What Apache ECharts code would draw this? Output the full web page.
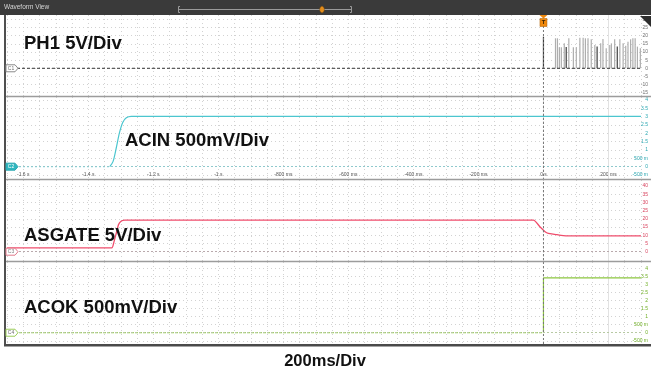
<!DOCTYPE html>
<html>
<head>
<meta charset="utf-8">
<script src="https://cdn.jsdelivr.net/npm/echarts@6/dist/echarts.min.js"></script>
<style>
  html, body { margin: 0; padding: 0; background: #ffffff; }
  #c { width: 651px; height: 376px; }
</style>
</head>
<body>
<div id="c"></div>
<script>
// ---- time base (seconds) ----
const timeMin = -1.65;
const timeMax = 0.3;
const timeLabels = [-1.6, -1.4, -1.2, -1, -0.8, -0.6, -0.4, -0.2, 0, 0.2];
const cursorTime = 0.2;

// ---- vertical scale labels per channel ----
const ph1Ticks = [-15, -10, -5, 0, 5, 10, 15, 20, 25, 30];
const acinTicks = [-0.5, 0, 0.5, 1, 1.5, 2, 2.5, 3, 3.5, 4];
const asgateTicks = [0, 5, 10, 15, 20, 25, 30, 35, 40];
const acokTicks = [-0.5, 0, 0.5, 1, 1.5, 2, 2.5, 3, 3.5, 4];

// ---- CH1: PH1 switching node (V) ----
const ph1Time = [-1.65, 0.3];
const ph1Volts = [0, 0];
const ph1PulseTimes = [0.037, 0.043, 0.049, 0.055, 0.064, 0.078, 0.092, 0.101, 0.112, 0.122,
  0.129, 0.137, 0.147, 0.158, 0.176, 0.183, 0.193, 0.204, 0.209, 0.219, 0.235, 0.245,
  0.253, 0.260, 0.268, 0.275, 0.282, 0.289, 0.298];
const ph1PulseVolts = [18.4, 18.4, 12.9, 12.9, 15.3, 18.4, 12.9, 12.9, 18.8, 18.8,
  18.4, 18.4, 17.8, 14.3, 15.3, 18.0, 12.3, 14.3, 15.3, 17.8, 17.8, 15.3,
  13.8, 16.3, 17.8, 18.4, 18.4, 13.3, 12.3];
const ph1DarkPulseTimes = [0.0, 0.070, 0.165, 0.227];
const ph1DarkPulseVolts = [19.4, 13.0, 13.3, 13.3];

// ---- CH2: ACIN (V) ----
const acinTime = [-1.65, -1.334, -1.324, -1.314, -1.304, -1.294, -1.283, -1.268, -1.243, 0.3];
const acinVolts = [0, 0, 0.3, 1.12, 2.04, 2.65, 2.93, 3.02, 3.02, 3.02];

// ---- CH3: ASGATE (V) ----
const asgateTime = [-1.65, -1.328, -1.321, -1.313, -1.307, -1.299, -1.288, -1.257,
  -0.031, -0.011, 0.005, 0.015, 0.035, 0.061, 0.107, 0.3];
const asgateVolts = [2.3, 2.3, 6, 12, 16.5, 18.6, 19.2, 19.3,
  19.3, 15.2, 12.2, 11.2, 10.6, 9.8, 9.6, 9.6];

// ---- CH4: ACOK (V) ----
const acokTime = [-1.65, 0, 0, 0.3];
const acokVolts = [0, 0, 3.4, 3.4];

const FONT = '"Liberation Sans", Arial, Helvetica, sans-serif';
const TEAL = '#4cc6cf';
const RED = '#ef4d6c';
const GREEN = '#8cc63f';

const pts = (ts, vs) => ts.map((t, i) => [t, vs[i]]);

function voltFmt(v) {
  if (v === 0.5) return '500 m';
  if (v === -0.5) return '-500 m';
  return String(v);
}
function timeFmt(t) {
  if (Math.abs(t) < 1e-9) return '0 s';
  if (Math.abs(t) >= 1) return t + ' s';
  return Math.round(t * 1000) + ' ms';
}

const panels = [
  { top: 15, height: 81, min: -17.0, max: 32.7, ticks: ph1Ticks, color: '#707070', fmt: String },
  { top: 97, height: 82, min: -0.74, max: 4.18, ticks: acinTicks, color: '#2aa7b1', fmt: voltFmt },
  { top: 180, height: 81, min: -5.67, max: 43.7, ticks: asgateTicks, color: '#d8445f', fmt: String },
  { top: 262, height: 82, min: -0.70, max: 4.39, ticks: acokTicks, color: '#6fae25', fmt: voltFmt }
];

const gridLine = { show: true, lineStyle: { color: '#d2d2d2', width: 1, type: [1, 3] } };

const grids = panels.map(p => ({ left: 7, right: 8, top: p.top, height: p.height }));

const xAxes = panels.map((p, i) => ({
  type: 'value', gridIndex: i, min: timeMin, max: timeMax, interval: 0.05,
  axisLine: { show: false }, axisTick: { show: false },
  splitLine: gridLine,
  axisLabel: i === 1 ? {
    show: true, inside: true, margin: 2, customValues: timeLabels,
    formatter: timeFmt, fontSize: 5, color: '#555', fontFamily: FONT
  } : { show: false }
}));

const yAxes = panels.map((p, i) => ({
  type: 'value', gridIndex: i, position: 'right', min: p.min, max: p.max,
  axisLine: { show: false },
  axisTick: { show: false, customValues: p.ticks },
  splitLine: gridLine,
  axisLabel: {
    show: true, customValues: p.ticks, formatter: p.fmt, align: 'right', margin: 7,
    fontSize: 5, color: p.color, fontFamily: FONT
  }
}));

const zeroRef = (color, type) => ({
  silent: true, symbol: 'none', animation: false,
  lineStyle: { color: color, width: 1, type: type },
  label: { show: false },
  data: [{ yAxis: 0 }]
});

const acinPts = pts(acinTime, acinVolts);
const acokPts = pts(acokTime, acokVolts);

const series = [
  // CH1 baseline and pulses
  {
    type: 'line', xAxisIndex: 0, yAxisIndex: 0, data: pts(ph1Time, ph1Volts),
    showSymbol: false, lineStyle: { color: '#333', width: 1, type: [3, 2] }, z: 4
  },
  {
    type: 'bar', xAxisIndex: 0, yAxisIndex: 0, data: pts(ph1PulseTimes, ph1PulseVolts),
    barWidth: 1.2, itemStyle: { color: '#aeaeae' }, z: 3
  },
  {
    type: 'bar', xAxisIndex: 0, yAxisIndex: 0, data: pts(ph1DarkPulseTimes, ph1DarkPulseVolts),
    barWidth: 1.2, barGap: '-100%', itemStyle: { color: '#3e3e3e' }, z: 3
  },
  // CH2 ACIN: idle part dashed, then edge and plateau
  {
    type: 'line', xAxisIndex: 1, yAxisIndex: 1, data: acinPts.slice(0, 2),
    showSymbol: false, lineStyle: { color: TEAL, width: 1, type: [2, 2] },
    markLine: zeroRef('#8fc9cd', [2, 2])
  },
  {
    type: 'line', xAxisIndex: 1, yAxisIndex: 1, data: acinPts.slice(1), smooth: 0.3,
    showSymbol: false, lineStyle: { color: TEAL, width: 1.2 }
  },
  // CH3 ASGATE
  {
    type: 'line', xAxisIndex: 2, yAxisIndex: 2, data: pts(asgateTime, asgateVolts), smooth: 0.2,
    showSymbol: false, lineStyle: { color: RED, width: 1.3 },
    markLine: zeroRef('#b9a9ac', [2, 2])
  },
  // CH4 ACOK: low part dashed, step at trigger
  {
    type: 'line', xAxisIndex: 3, yAxisIndex: 3, data: acokPts.slice(0, 2),
    showSymbol: false, lineStyle: { color: GREEN, width: 1, type: [3, 1] },
    markLine: zeroRef('#b7c9a3', [2, 2])
  },
  {
    type: 'line', xAxisIndex: 3, yAxisIndex: 3, data: acokPts.slice(1),
    showSymbol: false, lineStyle: { color: GREEN, width: 1.2 }
  }
];

const chart = echarts.init(document.getElementById('c'), null, { renderer: 'canvas' });
chart.setOption({
  animation: false,
  backgroundColor: '#ffffff',
  grid: grids,
  xAxis: xAxes,
  yAxis: yAxes,
  series: series
});

// ---- frame, channel tags, trigger and captions ----
const g = [];
const px = (i, t, v) => chart.convertToPixel({ xAxisIndex: i, yAxisIndex: i }, [t, v]);

// title bar
g.push({ type: 'rect', shape: { x: 0, y: 0, width: 651, height: 15 }, style: { fill: '#3a3a3a' }, z: 50 });
g.push({ type: 'text', x: 4, y: 7.5, style: { text: 'Waveform View', fill: '#d6d6d6', fontSize: 6.5, fontFamily: FONT, verticalAlign: 'middle' }, z: 51 });
g.push({ type: 'line', shape: { x1: 178, y1: 9.5, x2: 352, y2: 9.5 }, style: { stroke: '#9a9a9a', lineWidth: 1 }, z: 51 });
g.push({ type: 'polyline', shape: { points: [[180, 6.5], [178.5, 6.5], [178.5, 12.5], [180, 12.5]] }, style: { stroke: '#9a9a9a', lineWidth: 1, fill: null }, z: 51 });
g.push({ type: 'polyline', shape: { points: [[350, 6.5], [351.5, 6.5], [351.5, 12.5], [350, 12.5]] }, style: { stroke: '#9a9a9a', lineWidth: 1, fill: null }, z: 51 });
g.push({ type: 'ellipse', shape: { cx: 322, cy: 9.5, rx: 2.3, ry: 3.3 }, style: { fill: '#e38d1c', stroke: '#7a4a0a', lineWidth: 0.5 }, z: 52 });

// panel separators and outer frame
[96.5, 179.5, 261.5].forEach(y => {
  g.push({ type: 'line', shape: { x1: 5, y1: y, x2: 651, y2: y }, style: { stroke: '#9c9c9c', lineWidth: 1.5 }, z: 40 });
});
g.push({ type: 'rect', shape: { x: 4, y: 15, width: 2, height: 331 }, style: { fill: '#505050' }, z: 41 });
g.push({ type: 'rect', shape: { x: 4, y: 344, width: 647, height: 2.5 }, style: { fill: '#4a4a4a' }, z: 41 });

// cursor and trigger lines
const xCur = px(0, cursorTime, 0)[0];
g.push({ type: 'line', shape: { x1: xCur, y1: 15, x2: xCur, y2: 344 }, style: { stroke: '#e2e2e2', lineWidth: 1 }, z: 1 });
const xTrig = px(0, 0, 0)[0];
g.push({ type: 'line', shape: { x1: xTrig, y1: 26, x2: xTrig, y2: 344 }, style: { stroke: '#777', lineWidth: 1, lineDash: [2, 2] }, z: 5 });
g.push({ type: 'polygon', shape: { points: [[xTrig - 4, 15], [xTrig + 4, 15], [xTrig, 18.5]] }, style: { fill: '#f0890c' }, z: 53 });
g.push({ type: 'rect', shape: { x: xTrig - 3.5, y: 18.5, width: 7, height: 8 }, style: { fill: '#f0890c', stroke: '#a85a00', lineWidth: 0.5 }, z: 53 });
g.push({ type: 'text', x: xTrig, y: 22.7, style: { text: 'T', fill: '#3a2000', fontSize: 6, fontWeight: 'bold', fontFamily: FONT, align: 'center', verticalAlign: 'middle' }, z: 54 });

// top-right corner marker
g.push({ type: 'polygon', shape: { points: [[640, 16], [651, 16], [651, 27]] }, style: { fill: '#2e2e2e' }, z: 53 });

// channel ground tags
const tags = [
  { label: 'C1', stroke: '#8a8a8a', fill: '#ffffff', text: '#707070' },
  { label: 'C2', stroke: '#2aa7b1', fill: '#2fb6bf', text: '#ffffff' },
  { label: 'C3', stroke: '#e07a8c', fill: '#ffffff', text: '#808080' },
  { label: 'C4', stroke: '#9ccc5a', fill: '#ffffff', text: '#707070' }
];
tags.forEach((tg, i) => {
  const y = px(i, timeMin, 0)[1];
  g.push({
    type: 'polygon',
    shape: { points: [[6, y - 3.5], [15, y - 3.5], [18, y], [15, y + 3.5], [6, y + 3.5]] },
    style: { fill: tg.fill, stroke: tg.stroke, lineWidth: 1 }, z: 45
  });
  g.push({ type: 'text', x: 11, y: y, style: { text: tg.label, fill: tg.text, fontSize: 5, fontFamily: FONT, align: 'center', verticalAlign: 'middle' }, z: 46 });
});

// channel captions
const captions = [
  { text: 'PH1 5V/Div', x: 24, y: 44 },
  { text: 'ACIN 500mV/Div', x: 125, y: 141 },
  { text: 'ASGATE 5V/Div', x: 24, y: 236 },
  { text: 'ACOK 500mV/Div', x: 24, y: 308 }
];
captions.forEach(c => {
  g.push({ type: 'text', x: c.x, y: c.y, style: { text: c.text, fill: '#111', fontSize: 18.5, fontWeight: 'bold', fontFamily: FONT, verticalAlign: 'middle' }, z: 60 });
});
g.push({ type: 'text', x: 325, y: 361, style: { text: '200ms/Div', fill: '#111', fontSize: 16.5, fontWeight: 'bold', fontFamily: FONT, align: 'center', verticalAlign: 'middle' }, z: 60 });

chart.setOption({ graphic: g });
</script>
</body>
</html>
